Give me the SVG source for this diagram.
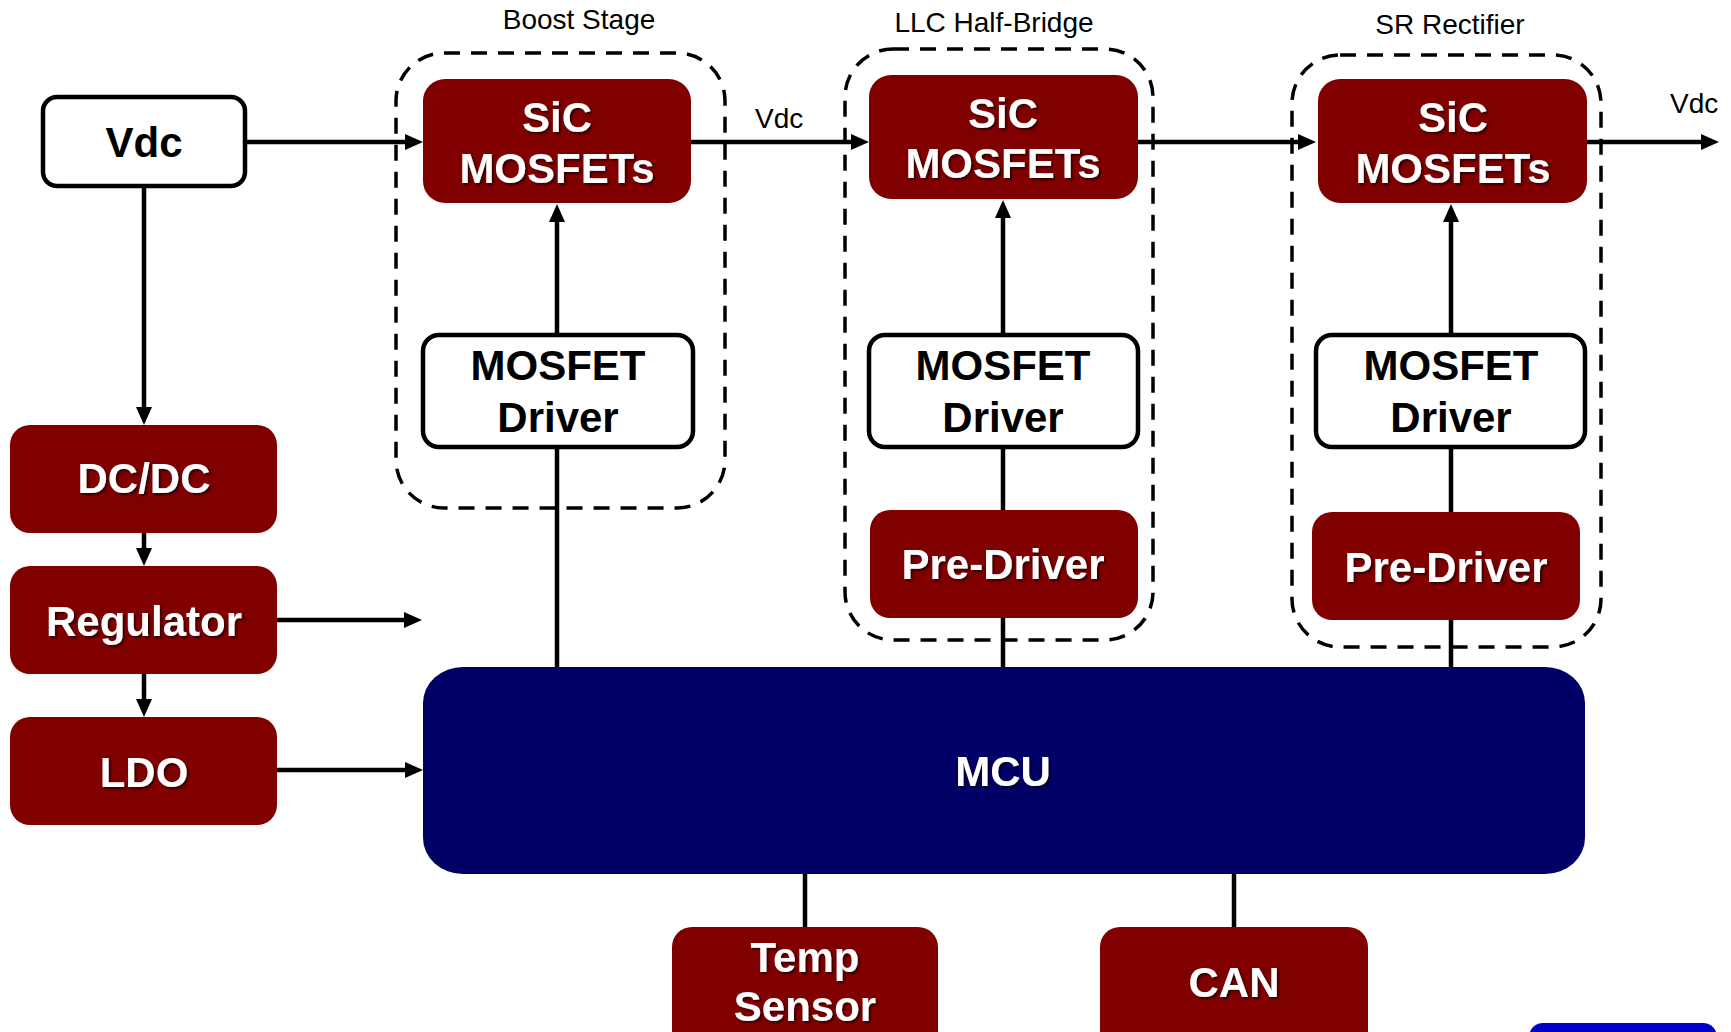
<svg xmlns="http://www.w3.org/2000/svg" width="1731" height="1032" viewBox="0 0 1731 1032">
<style>
.red{fill:#800000}
.wb{fill:#fff;stroke:#000;stroke-width:4.5}
.dash{fill:none;stroke:#000;stroke-width:3.5;stroke-dasharray:16 11}
.t{font-family:"Liberation Sans",Arial,sans-serif;font-weight:bold;font-size:42px;text-anchor:middle}
.tw{fill:#fff;filter:url(#sh)}
.tb{fill:#000}
.lab{font-family:"Liberation Sans",Arial,sans-serif;font-size:28px;fill:#000}
.c{fill:none;stroke:#000;stroke-width:4.5}
.a{marker-end:url(#arr)}
</style>
<defs>
<marker id="arr" markerUnits="userSpaceOnUse" markerWidth="18" markerHeight="16" refX="8" refY="8" orient="auto" viewBox="0 0 18 16">
<path d="M0,0 L18,8 L0,16 z" fill="#000"/>
</marker>
<filter id="sh" x="-10%" y="-20%" width="130%" height="150%">
<feDropShadow dx="2" dy="2" stdDeviation="1" flood-color="#000" flood-opacity="0.6"/>
</filter>
</defs>
<rect width="1731" height="1032" fill="#fff"/>

<g id="groups">
<rect class="dash" x="396" y="53" width="329" height="455" rx="48"/>
<rect class="dash" x="845" y="49" width="308" height="591" rx="48"/>
<rect class="dash" x="1292" y="55" width="309" height="592" rx="48"/>
<text class="lab" x="579" y="29" text-anchor="middle">Boost Stage</text>
<text class="lab" x="994" y="32" text-anchor="middle">LLC Half-Bridge</text>
<text class="lab" x="1450" y="34" text-anchor="middle">SR Rectifier</text>
</g>

<g id="connectors">
<path class="c a" d="M245,142 H413"/>
<path class="c a" d="M691,142 H859"/>
<path class="c a" d="M1138,142 H1306"/>
<path class="c a" d="M1587,142 H1709"/>
<path class="c a" d="M144,186 V415"/>
<path class="c a" d="M144,533 V556"/>
<path class="c a" d="M144,674 V707"/>
<path class="c a" d="M277,620 H412"/>
<path class="c a" d="M277,770 H413"/>
<path class="c a" d="M557,335 V214"/>
<path class="c a" d="M1003,335 V210"/>
<path class="c a" d="M1451,335 V214"/>
<path class="c" d="M557,447 V667"/>
<path class="c" d="M1003,447 V510"/>
<path class="c" d="M1003,618 V667"/>
<path class="c" d="M1451,447 V512"/>
<path class="c" d="M1451,620 V674"/>
<path class="c" d="M805,874 V927"/>
<path class="c" d="M1234,874 V927"/>
<text class="lab" x="755" y="128">Vdc</text>
<text class="lab" x="1670" y="113">Vdc</text>
</g>

<g id="vdc">
<rect class="wb" x="43" y="97" width="202" height="89" rx="14"/>
<text class="t tb" x="144" y="157">Vdc</text>
</g>
<g id="dcdc">
<rect class="red" x="10" y="425" width="267" height="108" rx="20"/>
<text class="t tw" x="144" y="493">DC/DC</text>
</g>
<g id="regulator">
<rect class="red" x="10" y="566" width="267" height="108" rx="20"/>
<text class="t tw" x="144" y="636">Regulator</text>
</g>
<g id="ldo">
<rect class="red" x="10" y="717" width="267" height="108" rx="20"/>
<text class="t tw" x="144" y="787">LDO</text>
</g>
<g id="mcu">
<rect x="423" y="667" width="1162" height="207" rx="40" ry="36" fill="#000066"/>
<text class="t tw" x="1003" y="786">MCU</text>
</g>

<g id="boost-sic">
<rect class="red" x="423" y="79" width="268" height="124" rx="22"/>
<text class="t tw" x="557" y="132">SiC</text>
<text class="t tw" x="557" y="183">MOSFETs</text>
</g>
<g id="boost-driver">
<rect class="wb" x="423" y="335" width="270" height="112" rx="16"/>
<text class="t tb" x="558" y="380">MOSFET</text>
<text class="t tb" x="558" y="432">Driver</text>
</g>

<g id="llc-sic">
<rect class="red" x="869" y="75" width="269" height="124" rx="22"/>
<text class="t tw" x="1003" y="128">SiC</text>
<text class="t tw" x="1003" y="178">MOSFETs</text>
</g>
<g id="llc-driver">
<rect class="wb" x="869" y="335" width="269" height="112" rx="16"/>
<text class="t tb" x="1003" y="380">MOSFET</text>
<text class="t tb" x="1003" y="432">Driver</text>
</g>
<g id="llc-predriver">
<rect class="red" x="870" y="510" width="268" height="108" rx="20"/>
<text class="t tw" x="1003" y="579">Pre-Driver</text>
</g>

<g id="sr-sic">
<rect class="red" x="1318" y="79" width="269" height="124" rx="22"/>
<text class="t tw" x="1453" y="132">SiC</text>
<text class="t tw" x="1453" y="183">MOSFETs</text>
</g>
<g id="sr-driver">
<rect class="wb" x="1316" y="335" width="269" height="112" rx="16"/>
<text class="t tb" x="1451" y="380">MOSFET</text>
<text class="t tb" x="1451" y="432">Driver</text>
</g>
<g id="sr-predriver">
<rect class="red" x="1312" y="512" width="268" height="108" rx="20"/>
<text class="t tw" x="1446" y="582">Pre-Driver</text>
</g>

<g id="temp-sensor">
<rect class="red" x="672" y="927" width="266" height="130" rx="20"/>
<text class="t tw" x="805" y="972">Temp</text>
<text class="t tw" x="805" y="1021">Sensor</text>
</g>
<g id="can">
<rect class="red" x="1100" y="927" width="268" height="130" rx="20"/>
<text class="t tw" x="1234" y="997">CAN</text>
</g>
<g id="blue-block">
<rect x="1529" y="1023" width="188" height="40" rx="14" fill="#0000c8"/>
</g>
</svg>
